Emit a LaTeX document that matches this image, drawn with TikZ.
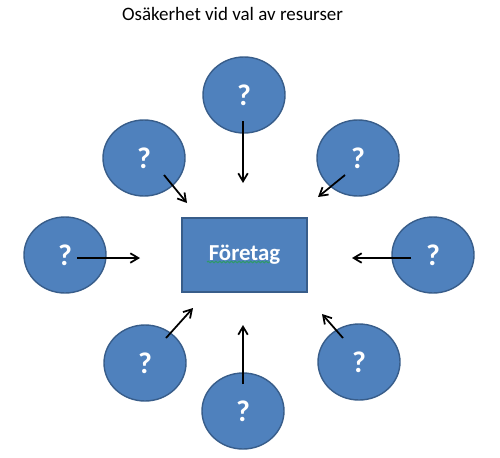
\documentclass[tikz,border=0pt]{standalone}
\usepackage{fontspec}
\setmainfont{Carlito}
\usepackage{tikz}
\usetikzlibrary{shapes.geometric,arrows.meta,decorations.pathmorphing}
\definecolor{qfill}{HTML}{4F81BD}
\definecolor{qline}{HTML}{385D8A}
\definecolor{spell}{HTML}{2E9A6A}
\begin{document}
\begin{tikzpicture}[
  unknown/.style={ellipse,draw=qline,line width=0.8pt,fill=qfill,minimum width=1.64cm,minimum height=1.52cm,inner sep=0pt,text=white,font=\fontsize{17}{17}\selectfont\bfseries},
  firm/.style={rectangle,draw=qline,line width=0.8pt,fill=qfill,minimum width=2.5cm,minimum height=1.48cm,text=white,font=\fontsize{13}{13}\selectfont\bfseries},
  pull/.style={-{Straight Barb[length=1.6mm,width=1.9mm]},line width=1pt,black}]
\useasboundingbox (0,0) rectangle (10,9.14);
\node[anchor=base,font=\fontsize{10.8}{10.8}\selectfont] (title) at (4.65,8.74) {Osäkerhet vid val av resurser};
\node[firm] (foretag) at (4.89,4.04) {Företag};
\coordinate (u1) at (4.14,3.90);
\coordinate (u2) at (5.40,3.90);
\draw[spell,line width=0.6pt,decorate,decoration={snake,amplitude=0.45pt,segment length=2.2pt}] (u1) -- (u2);
% the unknowns
\node[unknown] (q1) at (4.88,7.24) {?};
\node[unknown] (q2) at (2.88,5.98) {?};
\node[unknown] (q3) at (7.16,5.98) {?};
\node[unknown] (q4) at (1.30,4.04) {?};
\node[unknown] (q5) at (8.66,4.04) {?};
\node[unknown] (q6) at (2.90,1.88) {?};
\node[unknown] (q7) at (7.18,1.90) {?};
\node[unknown] (q8) at (4.86,0.92) {?};
% arrows towards the firm
\coordinate (s1) at (4.86,6.72); \coordinate (e1) at (4.86,5.48);
\coordinate (s2) at (3.28,5.64); \coordinate (e2) at (3.74,5.08);
\coordinate (s3) at (6.90,5.64); \coordinate (e3) at (6.36,5.20);
\coordinate (s4) at (1.54,3.98); \coordinate (e4) at (2.80,3.98);
\coordinate (s5) at (8.22,3.98); \coordinate (e5) at (7.04,3.98);
\coordinate (s6) at (3.32,2.38); \coordinate (e6) at (3.86,2.98);
\coordinate (s7) at (6.86,2.38); \coordinate (e7) at (6.44,2.86);
\coordinate (s8) at (4.86,1.46); \coordinate (e8) at (4.86,2.64);
\draw[pull] (s1) -- (e1);
\draw[pull] (s2) -- (e2);
\draw[pull] (s3) -- (e3);
\draw[pull] (s4) -- (e4);
\draw[pull] (s5) -- (e5);
\draw[pull] (s6) -- (e6);
\draw[pull] (s7) -- (e7);
\draw[pull] (s8) -- (e8);
\end{tikzpicture}
\end{document}
